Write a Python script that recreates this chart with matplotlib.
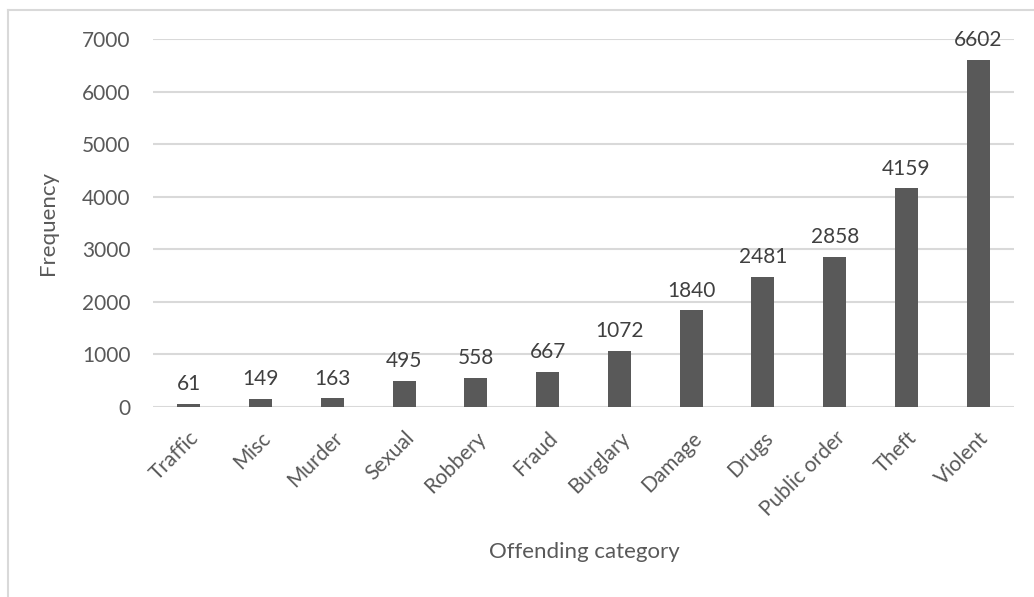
import matplotlib.pyplot as plt
from matplotlib.lines import Line2D

categories = ['Traffic', 'Misc', 'Murder', 'Sexual', 'Robbery', 'Fraud',
              'Burglary', 'Damage', 'Drugs', 'Public order', 'Theft', 'Violent']
counts = [61, 149, 163, 495, 558, 667, 1072, 1840, 2481, 2858, 4159, 6602]
yticks = [0, 1000, 2000, 3000, 4000, 5000, 6000, 7000]

text_col = '#595959'
bar_col = '#595959'
grid_col = '#d9d9d9'

plt.rcParams['font.family'] = ['Lato', 'DejaVu Sans']

W, H = 1034, 597
fig = plt.figure(figsize=(W / 100, H / 100), dpi=100)
ax = fig.add_axes([153 / W, 1 - 407 / H, (1014 - 153) / W, (407 - 39) / H])

x = list(range(len(categories)))
ax.bar(x, counts, width=0.32, color=bar_col, zorder=3)
for xi, v in zip(x, counts):
    ax.annotate(str(v), (xi, v), xytext=(0, 7), textcoords='offset points',
                ha='center', va='bottom', fontsize=15, color='#404040')

ax.set_xlim(-0.5, len(categories) - 0.5)
ax.set_ylim(0, 7000)
ax.set_yticks(yticks)
ax.yaxis.grid(True, color=grid_col, linewidth=1.5, zorder=0)
ax.set_axisbelow(True)
for s in ax.spines.values():
    s.set_visible(False)
ax.tick_params(length=0, colors=text_col, labelsize=15)
ax.tick_params(axis='y', pad=16)
ax.set_xticks(x)
ax.set_xticklabels(categories, rotation=45, ha='right', rotation_mode='anchor')
ax.tick_params(axis='x', pad=15)

ax.set_ylabel('Frequency', fontsize=16, color=text_col)
ax.yaxis.set_label_coords((58 - 153) / (1014 - 153), 0.5)
fig.text(584 / W, 1 - 552 / H, 'Offending category', ha='center', va='center',
         fontsize=16, color=text_col)

# chart frame (left and top edges)
fig.add_artist(Line2D([8 / W, 8 / W], [0, 1 - 10 / H], transform=fig.transFigure,
                      color=grid_col, linewidth=1.5))
fig.add_artist(Line2D([8 / W, 1], [1 - 10 / H, 1 - 10 / H], transform=fig.transFigure,
                      color=grid_col, linewidth=1.5))

fig.savefig('out.png', dpi=100)
